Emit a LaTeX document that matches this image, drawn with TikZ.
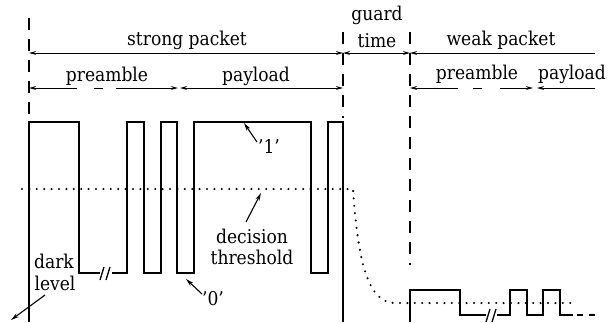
\documentclass[tikz,border=0pt]{standalone}
\usepackage{fontspec}
\setmainfont[FakeStretch=0.9]{DejaVu Serif}
\usetikzlibrary{arrows.meta}
\begin{document}
\begin{tikzpicture}[x=1pt,y=-1pt,
  lbl/.style={font=\fontsize{19}{22}\selectfont, inner sep=0pt, anchor=base},
  sig/.style={line width=1.7pt, line join=miter, line cap=butt},
  dimline/.style={line width=1pt},
  vdash/.style={line width=1.5pt, dash pattern=on 12pt off 9pt},
  thr/.style={line width=2.3pt, line cap=round, dash pattern=on 0pt off 7.4pt},
  both/.style={arrows={Stealth[length=7pt,width=3.8pt]-Stealth[length=7pt,width=3.8pt]}},
  lefttip/.style={arrows={Stealth[length=7pt,width=3.8pt]-}},
  ptr/.style={line width=1.1pt, arrows={-Stealth[length=8pt,width=4.2pt]}}
]
\useasboundingbox (0,0) rectangle (610,322);
\fill[white] (0,0) rectangle (610,322);

% vertical dashed markers
\coordinate (vA1) at (29,18);  \coordinate (vA2) at (29,118);
\coordinate (vB1) at (343,32); \coordinate (vB2) at (343,118);
\coordinate (vC1) at (410,32); \coordinate (vC2) at (410,265);
\draw[vdash] (vA1) -- (vA2);
\draw[vdash] (vB1) -- (vB2);
\draw[vdash] (vC1) -- (vC2);

% dimension arrows, row 1
\coordinate (r1a) at (29,53);  \coordinate (r1b) at (343,53);
\coordinate (r1c) at (410,53); \coordinate (r1d) at (595,53);
\draw[dimline,both] (r1a) -- (r1b);
\draw[dimline,both] (r1b) -- (r1c);
\draw[dimline,lefttip] (r1c) -- (r1d);

% dimension arrows, row 2
\coordinate (r2a) at (29,88);  \coordinate (r2b) at (178,88);
\coordinate (r2c) at (180,88); \coordinate (r2d) at (343,88);
\coordinate (r2e) at (410,88); \coordinate (r2f) at (533,88);
\coordinate (r2g) at (537,88); \coordinate (r2h) at (595,88);
\draw[dimline,both,dash pattern=on 44pt off 17pt on 9pt off 13pt on 100pt] (r2a) -- (r2b);
\draw[dimline,both] (r2c) -- (r2d);
\draw[dimline,both,dash pattern=on 44pt off 15pt on 9pt off 18pt on 100pt] (r2e) -- (r2f);
\draw[dimline,lefttip] (r2g) -- (r2h);

% labels
\node[lbl] (strong) at (187,45) {strong packet};
\node[lbl] (pre1) at (107,81) {preamble};
\node[lbl] (pay1) at (256,81) {payload};
\node[lbl] (guard) at (377,20) {guard};
\node[lbl] (time) at (377,47) {time};
\node[lbl] (weak) at (501,45) {weak packet};
\node[lbl] (pre2) at (477,79) {preamble};
\node[lbl] (pay2) at (572,79) {payload};
\node[lbl] (one) at (269,153) {’1’};
\node[lbl] (zero) at (213,305) {’0’};
\node[lbl] (dec) at (252,243) {decision};
\node[lbl] (thres) at (252,264) {threshold};
\node[lbl] (dark) at (54,268) {dark};
\node[lbl] (level) at (55,290) {level};

% strong packet signal
\draw[sig] (29,322) |- (79,122) -- (79,273) -- (100,273);
\draw[sig] (112,273) -- (127,273) -- (127,122) -- (144,122) -- (144,273)
  -- (161,273) -- (161,122) -- (177,122) -- (177,273) -- (194,273)
  -- (194,122) -- (311,122) -- (311,273) -- (328,273) -- (328,122)
  -- (343,122) -- (343,322);
\draw[line width=1.3pt] (100,280) -- (104,267) (106,280) -- (110,267);

% weak packet signal
\draw[sig] (410,322) |- (460,290) -- (460,315) -- (486,315);
\draw[sig] (497,315) -- (510,315) -- (510,290) -- (527,290) -- (527,315)
  -- (543,315) -- (543,290) -- (560,290) -- (560,315) -- (573,315);
\draw[sig] (577,315) -- (583,315) (589,315) -- (595,315);
\draw[line width=1.3pt] (486,322) -- (490,309) (492,322) -- (496,309);

% decision threshold
\draw[thr] (22,189) -- (353,189) .. controls (358,262) and (368,303) .. (395,303) -- (577,303);

% pointer arrows
\coordinate (p1t) at (257,142); \coordinate (p1h) at (244,123);
\coordinate (p0t) at (202,294); \coordinate (p0h) at (186,279);
\coordinate (pdt) at (246,222); \coordinate (pdh) at (261,193);
\coordinate (pkt) at (45,295);  \coordinate (pkh) at (11,320);
\draw[ptr] (p1t) -- (p1h);
\draw[ptr] (p0t) -- (p0h);
\draw[ptr] (pdt) -- (pdh);
\draw[ptr] (pkt) -- (pkh);
\end{tikzpicture}
\end{document}
